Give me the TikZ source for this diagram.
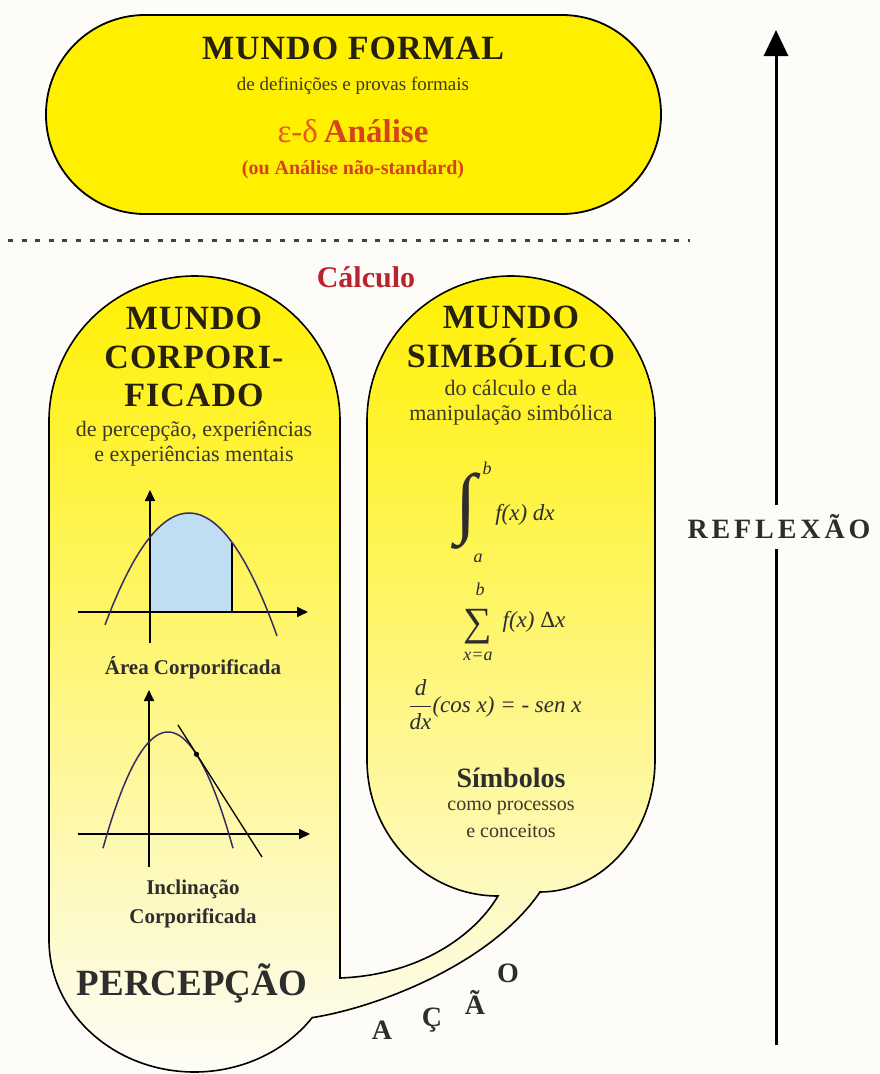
\documentclass[tikz,border=0pt]{standalone}
\usepackage{fontspec}
\setmainfont{Liberation Serif}
\usetikzlibrary{arrows.meta}
\definecolor{paper}{RGB}{253,252,248}
\definecolor{formalyellow}{RGB}{255,240,0}
\definecolor{titleink}{RGB}{38,32,12}
\definecolor{subink}{RGB}{60,56,40}
\definecolor{labelink}{RGB}{45,45,45}
\definecolor{calcred}{RGB}{185,35,45}
\definecolor{epsorange}{RGB}{232,90,30}
\definecolor{analred}{RGB}{214,66,28}
\definecolor{curveblue}{RGB}{52,46,100}
\definecolor{areablue}{RGB}{192,222,242}
\definecolor{dotgray}{RGB}{62,66,78}
\begin{document}
\begin{tikzpicture}[x=1pt,y=-1pt,
  bigtitle/.style={font=\fontsize{34}{38.5}\selectfont\bfseries\addfontfeature{LetterSpace=3}, text=titleink, align=center, inner sep=0pt},
  subtitle/.style={font=\fontsize{22}{25}\selectfont, text=subink, align=center, inner sep=0pt},
  graphlabel/.style={font=\fontsize{21}{29}\selectfont\bfseries, text=labelink, align=center, inner sep=0pt},
  formula/.style={font=\fontsize{23}{24}\selectfont\itshape, text=labelink, inner sep=0pt},
  axis/.style={line width=1.7pt, -{Triangle[length=11pt,width=10pt]}},
  curve/.style={curveblue, line width=1.5pt},
  acaoletter/.style={font=\fontsize{28}{28}\selectfont\bfseries, text=labelink, inner sep=0pt}]

\path[fill=paper, use as bounding box] (0,0) rectangle (880,1074);

% mundo formal
\draw[fill=formalyellow, line width=1.8pt, rounded corners=99pt] (46,15) rectangle (661,214);
\node[bigtitle] (formal) at (353,48) {MUNDO FORMAL};
\node[subtitle, font=\fontsize{19}{22}\selectfont] (formaldef) at (353,86) {de definições e provas formais};
\node[inner sep=0pt, font=\fontsize{33}{34}\selectfont] (analise) at (353,131)
  {\textcolor{epsorange}{ε-δ}\hspace{6pt}\textcolor{analred}{\bfseries Análise}};
\node[inner sep=0pt, text=analred, font=\fontsize{20}{22}\selectfont\bfseries] (naostd) at (353,170) {(ou Análise não-standard)};

\draw[dotgray, line width=3pt, dash pattern=on 5pt off 8.6pt] (8,240) -- (690,240);
\node[inner sep=0pt, text=calcred, font=\fontsize{30}{30}\selectfont\bfseries] (calculo) at (366,277) {Cálculo};

% os dois mundos do calculo
\draw[line width=1.6pt, top color=formalyellow, middle color=formalyellow!14!paper, bottom color=paper]
  (340,978) -- (340,421)
  arc[start angle=0, end angle=180, x radius=145.5pt, y radius=145pt]
  -- (49,940)
  arc[start angle=180, end angle=324, x radius=145.5pt, y radius=132pt]
  .. controls (375,1008) and (490,965) .. (540,892)
  arc[start angle=270, end angle=360, x radius=115pt, y radius=132pt]
  -- (655,421)
  arc[start angle=0, end angle=180, x radius=144pt, y radius=145pt]
  -- (367,760)
  arc[start angle=180, end angle=270, x radius=131pt, y radius=136pt]
  .. controls (475,935) and (420,975) .. (340,978) -- cycle;

\node[bigtitle] (corpo) at (194,357) {MUNDO\\CORPORI-\\FICADO};
\node[subtitle] (corpodef) at (194,444) {de percepção, experiências\\e experiências mentais};

\fill[areablue] (150,612) -- plot[domain=150:232, samples=30] (\x,{513+99*((\x-189)/79)^2}) -- (232,612) -- cycle;
\draw[line width=1.3pt] (232,{513+99*((232-189)/79)^2}) -- (232,612);
\draw[axis] (78,612) -- (308,612);
\draw[axis] (150,643) -- (150,490);
\draw[curve] plot[domain=105:277, samples=50, smooth] (\x,{513+99*((\x-189)/79)^2});
\node[graphlabel] (area) at (193,668) {Área Corporificada};

\draw[axis] (78,834) -- (310,834);
\draw[axis] (149,867) -- (149,690);
\draw[curve] plot[domain=103:233, samples=50, smooth] (\x,{732+99*((\x-168)/60)^2});
\draw[line width=1.3pt] (178,725) -- (262,857);
\fill (196.5,754.3) circle[radius=2.6pt];
\node[graphlabel] (inclina) at (193,904) {Inclinação\\Corporificada};

\node[inner sep=0pt, text=labelink, font=\fontsize{37}{37}\selectfont\bfseries] (percep) at (192,983) {PERCEPÇÃO};

\node[bigtitle] (simbol) at (511,337) {MUNDO\\SIMBÓLICO};
\node[subtitle] (simboldef) at (511,403) {do cálculo e da\\manipulação simbólica};

\node[inner sep=0pt, text=labelink, font=\fontsize{78}{78}\selectfont\itshape] (intsign) at (466,511) {∫};
\node[formula, font=\fontsize{18}{18}\selectfont\itshape] (intb) at (487,468) {b};
\node[formula, font=\fontsize{18}{18}\selectfont\itshape] (inta) at (478,558) {a};
\node[formula] (intf) at (525,515) {f(x) dx};
\node[inner sep=0pt, text=labelink, font=\fontsize{40}{40}\selectfont] (sumsign) at (478,627) {∑};
\node[formula, font=\fontsize{18}{18}\selectfont\itshape] (sumb) at (480,589) {b};
\node[formula, font=\fontsize{18}{18}\selectfont\itshape] (suma) at (478,656) {x=a};
\node[formula] (sumf) at (534,622) {f(x) {\upshape Δ}x};
\node[formula] (deriv) at (495,705) {$\displaystyle\frac{\textit{d}}{\textit{dx}}$(cos x) = - sen x};

\node[inner sep=0pt, text=labelink, font=\fontsize{28}{28}\selectfont\bfseries] (simbolos) at (511,778) {Símbolos};
\node[subtitle, font=\fontsize{20}{27}\selectfont] (processos) at (511,819) {como processos\\e conceitos};

\foreach \x/\y/\letra in {382/1030/A, 432/1020/Ç, 475/1002/Ã, 508/973/O}
{
    \node[acaoletter] (acao\letra) at (\x,\y) {\letra};
}

% reflexao
\coordinate (reflbase) at (776,1045);
\coordinate (refltip) at (776,30);
\draw[line width=3pt, -{Triangle[length=26pt,width=24pt]}] (reflbase) -- (refltip);
\node[fill=paper, inner xsep=0pt, inner ysep=10pt, text=labelink, font=\fontsize{28}{28}\selectfont\bfseries\addfontfeature{LetterSpace=14}] (reflexao) at (779,527) {REFLEXÃO};

\end{tikzpicture}
\end{document}
